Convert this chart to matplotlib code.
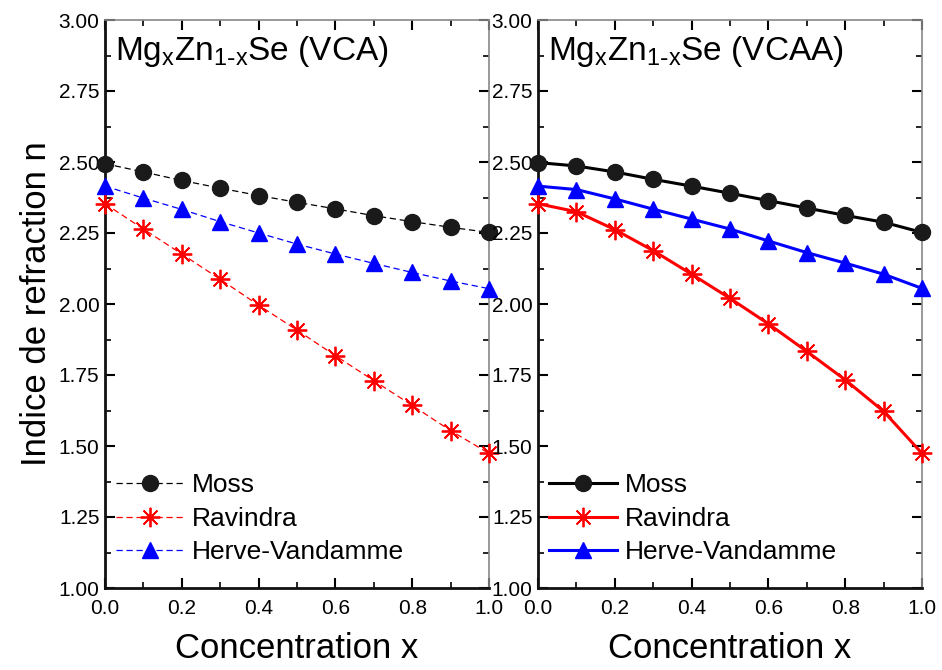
import numpy as np
import matplotlib.pyplot as plt
from matplotlib.ticker import MultipleLocator

# concentration x
x = [0.0, 0.1, 0.2, 0.3, 0.4, 0.5, 0.6, 0.7, 0.8, 0.9, 1.0]

# VCA (left panel)
moss_vca = [2.494, 2.465, 2.435, 2.408, 2.382, 2.358, 2.335, 2.311, 2.290, 2.270, 2.252]
ravindra_vca = [2.353, 2.264, 2.176, 2.087, 1.996, 1.908, 1.818, 1.730, 1.643, 1.554, 1.474]
hv_vca = [2.415, 2.373, 2.333, 2.290, 2.250, 2.211, 2.176, 2.143, 2.111, 2.081, 2.054]

# VCAA (right panel)
moss_vcaa = [2.498, 2.486, 2.465, 2.439, 2.415, 2.390, 2.364, 2.338, 2.312, 2.288, 2.252]
ravindra_vcaa = [2.353, 2.325, 2.262, 2.188, 2.105, 2.020, 1.930, 1.833, 1.733, 1.622, 1.474]
hv_vcaa = [2.415, 2.403, 2.370, 2.334, 2.299, 2.264, 2.222, 2.181, 2.144, 2.105, 2.055]

yticks = [1.00, 1.25, 1.50, 1.75, 2.00, 2.25, 2.50, 2.75, 3.00]
xticks = [0.0, 0.2, 0.4, 0.6, 0.8, 1.0]

plt.rcParams['font.family'] = ['Liberation Sans', 'DejaVu Sans']

fig = plt.figure(figsize=(9.42, 6.7), dpi=100)
ax1 = fig.add_axes([105 / 942, 1 - 588 / 670, 384 / 942, 568 / 670])
ax2 = fig.add_axes([538 / 942, 1 - 588 / 670, 384 / 942, 568 / 670])

star = (8, 2, 0)


def setup(ax, data, title, dashed):
    ls = (0, (5, 3)) if dashed else '-'
    lw = 0.9 if dashed else 2.2
    ax.plot(x, data[0], color='#000000', ls=ls, lw=lw, marker='o', ms=11.5,
            mfc='#1a1a1a', mec='#1a1a1a', label='Moss', clip_on=False, zorder=3)
    ax.plot(x, data[1], color='#ff0000', ls=ls, lw=lw, marker=star, ms=14,
            mew=1.3, mec='#ff0000', label='Ravindra', clip_on=False, zorder=3)
    ax.plot(x, data[2], color='#0000ff', ls=ls, lw=lw, marker='^', ms=12,
            mfc='#0000ff', mec='#0000ff', label='Herve-Vandamme', clip_on=False, zorder=3)
    ax.set_xlim(0, 1)
    ax.set_ylim(1, 3)
    ax.set_xticks(xticks)
    ax.set_yticks(yticks)
    ax.set_xticklabels(['%.1f' % v for v in xticks], fontsize=15)
    ax.set_yticklabels(['%.2f' % v for v in yticks], fontsize=15)
    ax.xaxis.set_minor_locator(MultipleLocator(0.1))
    ax.yaxis.set_minor_locator(MultipleLocator(0.125))
    ax.tick_params(which='both', direction='in', top=True, right=True)
    ax.tick_params(which='major', length=7, width=1.5)
    ax.tick_params(which='minor', length=4, width=1.2)
    ax.tick_params(axis='x', pad=8)
    ax.tick_params(axis='y', pad=4)
    for s in ['left', 'bottom']:
        ax.spines[s].set_linewidth(2.0)
        ax.spines[s].set_color('#111111')
    for s in ['top', 'right']:
        ax.spines[s].set_linewidth(1.2)
        ax.spines[s].set_color('#888888')
    ax.set_xlabel('Concentration x', fontsize=25, labelpad=10)
    ax.text(0.025, 0.975, title, transform=ax.transAxes, fontsize=24, va='top', ha='left')
    ax.legend(loc='lower left', bbox_to_anchor=(0.0, 0.023), frameon=False, fontsize=19,
              handlelength=2.6, labelspacing=0.36, borderaxespad=0.2, borderpad=0.2,
              handletextpad=0.3)


setup(ax1, (moss_vca, ravindra_vca, hv_vca),
      r'Mg$_{\mathregular{x}}$Zn$_{\mathregular{1\text{-}x}}$Se (VCA)', True)
setup(ax2, (moss_vcaa, ravindra_vcaa, hv_vcaa),
      r'Mg$_{\mathregular{x}}$Zn$_{\mathregular{1\text{-}x}}$Se (VCAA)', False)
ax1.set_ylabel('Indice de refraction n', fontsize=25, labelpad=4)

fig.savefig('out.png', dpi=100)
